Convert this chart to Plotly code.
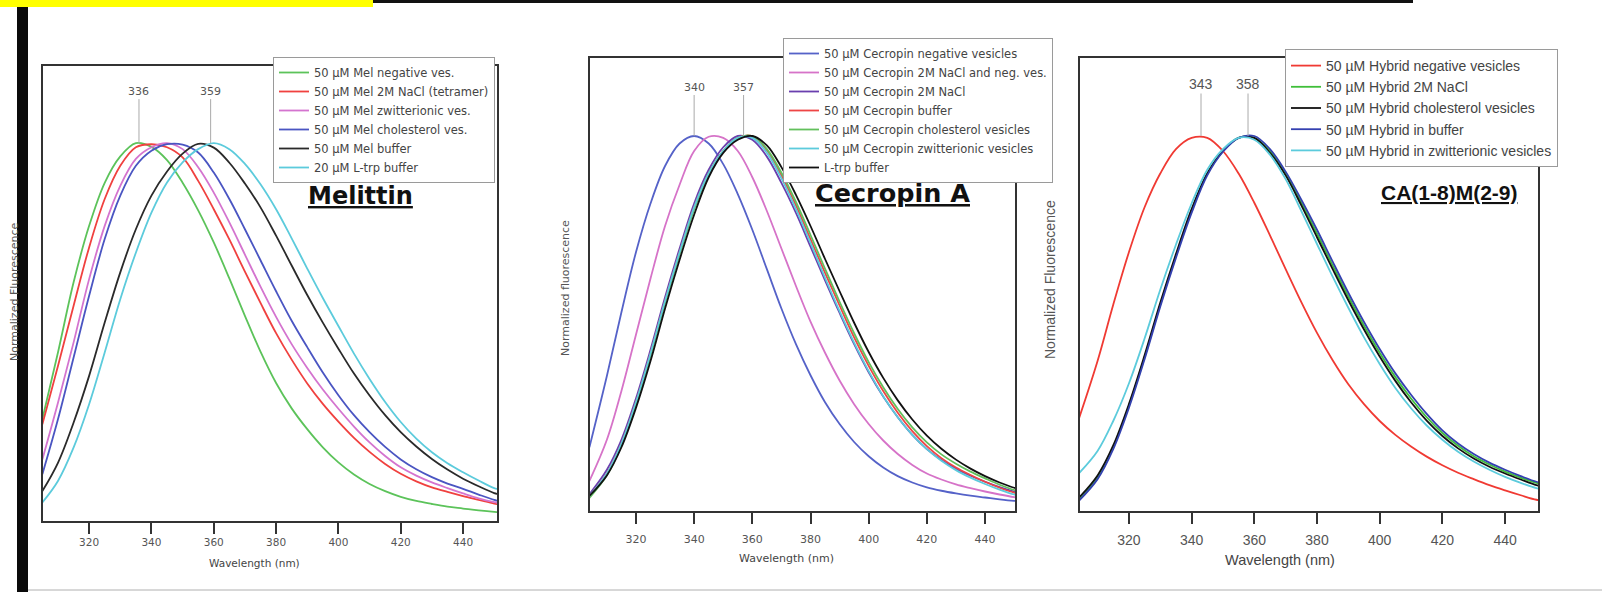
import plotly.graph_objects as go

W, H = 1602, 595

# ---------------- data ----------------
WL_MEL = [305, 310, 315, 320, 325, 330, 335, 340, 345, 350, 355, 360, 365, 370, 375, 380,
          385, 390, 395, 400, 405, 410, 415, 420, 425, 430, 435, 440, 445, 450, 452]
MEL_NAMES = ["50 µM Mel negative ves.", "50 µM Mel 2M NaCl (tetramer)",
             "50 µM Mel zwitterionic ves.", "50 µM Mel cholesterol ves.",
             "50 µM Mel buffer", "20 µM L-trp buffer"]
MEL_NEG = [0.27, 0.446, 0.631, 0.781, 0.895, 0.965, 1.0, 0.99, 0.955, 0.895, 0.822, 0.737,
           0.642, 0.543, 0.448, 0.365, 0.298, 0.243, 0.195, 0.155, 0.123, 0.098, 0.079, 0.064,
           0.053, 0.045, 0.038, 0.033, 0.028, 0.024, 0.023]
MEL_NACL = [0.256, 0.41, 0.569, 0.724, 0.852, 0.94, 0.989, 0.997, 0.989, 0.962, 0.9, 0.825,
            0.745, 0.66, 0.577, 0.497, 0.427, 0.364, 0.31, 0.263, 0.22, 0.183, 0.151, 0.125,
            0.105, 0.089, 0.077, 0.066, 0.056, 0.046, 0.043]
MEL_ZWIT = [0.163, 0.313, 0.472, 0.64, 0.781, 0.887, 0.958, 0.989, 1.0, 0.984, 0.936, 0.869,
            0.79, 0.705, 0.62, 0.54, 0.468, 0.405, 0.348, 0.297, 0.25, 0.208, 0.172, 0.142,
            0.12, 0.102, 0.087, 0.073, 0.06, 0.05, 0.047]
MEL_CHOL = [0.124, 0.269, 0.432, 0.596, 0.746, 0.861, 0.94, 0.98, 0.997, 0.996, 0.975, 0.922,
            0.852, 0.772, 0.69, 0.608, 0.53, 0.46, 0.393, 0.333, 0.28, 0.235, 0.196, 0.163,
            0.137, 0.116, 0.099, 0.085, 0.07, 0.056, 0.052]
MEL_BUF = [0.079, 0.154, 0.26, 0.384, 0.525, 0.658, 0.772, 0.861, 0.925, 0.972, 0.998, 0.988,
           0.948, 0.893, 0.83, 0.755, 0.676, 0.598, 0.525, 0.456, 0.39, 0.332, 0.28, 0.235,
           0.197, 0.164, 0.136, 0.112, 0.092, 0.074, 0.07]
MEL_TRP = [0.049, 0.106, 0.194, 0.309, 0.446, 0.587, 0.71, 0.816, 0.896, 0.949, 0.984, 1.0,
           0.984, 0.945, 0.891, 0.825, 0.748, 0.668, 0.59, 0.516, 0.443, 0.376, 0.315, 0.262,
           0.218, 0.182, 0.153, 0.129, 0.107, 0.087, 0.083]

WL_CEC = [304, 310, 315, 320, 325, 330, 335, 340, 345, 350, 355, 360, 365, 370, 375, 380,
          385, 390, 395, 400, 405, 410, 415, 420, 425, 430, 435, 440, 445, 450, 452]
CEC_NAMES = ["50 µM Cecropin negative vesicles", "50 µM Cecropin 2M NaCl and neg. ves.",
             "50 µM Cecropin 2M NaCl", "50 µM Cecropin buffer",
             "50 µM Cecropin cholesterol vesicles", "50 µM Cecropin zwitterionic vesicles",
             "L-trp buffer"]
CEC_NEG = [0.17, 0.36, 0.53, 0.69, 0.82, 0.92, 0.98, 1.0, 0.98, 0.925, 0.845, 0.75,
           0.645, 0.54, 0.445, 0.362, 0.29, 0.232, 0.184, 0.146, 0.116, 0.093, 0.076, 0.063,
           0.054, 0.047, 0.041, 0.036, 0.031, 0.027, 0.026]
CEC_NACLNEG = [0.08, 0.19, 0.32, 0.47, 0.62, 0.76, 0.87, 0.96, 0.998, 0.995, 0.96, 0.89,
               0.8, 0.7, 0.6, 0.505, 0.422, 0.348, 0.285, 0.232, 0.188, 0.152, 0.123, 0.1,
               0.084, 0.071, 0.061, 0.052, 0.044, 0.037, 0.035]
CEC_NACL = [0.045, 0.11, 0.19, 0.3, 0.43, 0.57, 0.7, 0.82, 0.91, 0.97, 1.0, 0.99,
            0.945, 0.875, 0.795, 0.705, 0.615, 0.528, 0.445, 0.37, 0.305, 0.25, 0.203, 0.165,
            0.136, 0.113, 0.094, 0.078, 0.064, 0.052, 0.049]
CEC_BUF = [0.04, 0.1, 0.18, 0.29, 0.42, 0.56, 0.69, 0.81, 0.9, 0.96, 0.995, 1.0,
           0.962, 0.895, 0.815, 0.725, 0.635, 0.548, 0.463, 0.387, 0.32, 0.262, 0.213, 0.173,
           0.141, 0.116, 0.096, 0.078, 0.062, 0.049, 0.046]
CEC_CHOL = [0.035, 0.095, 0.175, 0.285, 0.415, 0.555, 0.685, 0.805, 0.9, 0.96, 0.995, 1.0,
            0.965, 0.902, 0.824, 0.736, 0.646, 0.558, 0.474, 0.397, 0.33, 0.272, 0.223, 0.183,
            0.151, 0.126, 0.105, 0.087, 0.07, 0.056, 0.053]
CEC_ZWIT = [0.04, 0.1, 0.18, 0.29, 0.42, 0.56, 0.69, 0.81, 0.9, 0.96, 0.995, 0.995,
            0.955, 0.887, 0.805, 0.715, 0.622, 0.533, 0.449, 0.373, 0.306, 0.25, 0.203, 0.165,
            0.134, 0.109, 0.089, 0.072, 0.057, 0.044, 0.041]
CEC_TRP = [0.04, 0.095, 0.17, 0.275, 0.4, 0.54, 0.67, 0.79, 0.89, 0.955, 0.99, 1.0,
           0.975, 0.917, 0.843, 0.76, 0.672, 0.586, 0.502, 0.424, 0.355, 0.295, 0.244, 0.201,
           0.166, 0.137, 0.113, 0.093, 0.076, 0.062, 0.059]

WL_HYB = [304, 310, 315, 320, 325, 330, 335, 340, 345, 350, 355, 360, 365, 370, 375, 380,
          385, 390, 395, 400, 405, 410, 415, 420, 425, 430, 435, 440, 445, 450, 452]
HYB_NAMES = ["50 µM Hybrid negative vesicles", "50 µM Hybrid 2M NaCl",
             "50 µM Hybrid cholesterol vesicles", "50 µM Hybrid in buffer",
             "50 µM Hybrid in zwitterionic vesicles"]
HYB_NEG = [0.245, 0.4, 0.55, 0.69, 0.81, 0.9, 0.965, 0.995, 0.995, 0.96, 0.9, 0.822,
           0.735, 0.645, 0.557, 0.475, 0.402, 0.338, 0.285, 0.24, 0.203, 0.172, 0.145, 0.122,
           0.102, 0.085, 0.069, 0.055, 0.042, 0.03, 0.028]
HYB_NACL = [0.03, 0.09, 0.17, 0.28, 0.41, 0.55, 0.68, 0.8, 0.9, 0.96, 0.995, 0.995,
            0.96, 0.9, 0.822, 0.74, 0.655, 0.572, 0.494, 0.422, 0.357, 0.3, 0.25, 0.208,
            0.174, 0.146, 0.124, 0.105, 0.089, 0.075, 0.072]
HYB_CHOL = [0.035, 0.095, 0.175, 0.285, 0.415, 0.555, 0.685, 0.805, 0.9, 0.96, 0.995, 0.995,
            0.955, 0.895, 0.815, 0.73, 0.645, 0.562, 0.484, 0.412, 0.347, 0.29, 0.241, 0.2,
            0.167, 0.14, 0.118, 0.1, 0.084, 0.069, 0.066]
HYB_BUF = [0.027, 0.085, 0.165, 0.275, 0.405, 0.545, 0.675, 0.795, 0.895, 0.958, 0.995, 1.0,
           0.965, 0.905, 0.83, 0.75, 0.665, 0.582, 0.504, 0.432, 0.367, 0.31, 0.259, 0.215,
           0.18, 0.152, 0.129, 0.11, 0.093, 0.078, 0.075]
HYB_ZWIT = [0.1, 0.16, 0.24, 0.34, 0.46, 0.59, 0.71, 0.82, 0.91, 0.965, 0.995, 0.99,
            0.95, 0.885, 0.8, 0.712, 0.625, 0.542, 0.463, 0.392, 0.328, 0.274, 0.228, 0.19,
            0.158, 0.132, 0.11, 0.091, 0.075, 0.061, 0.058]

MEL_PEAKS = [336, 359]
CEC_PEAKS = [340, 357]
HYB_PEAKS = [343, 358]
XTICKS = [320, 340, 360, 380, 400, 420, 440]

# ---------------- helpers ----------------
def px(x):
    return x / W


def py(y):
    return 1 - y / H


fig = go.Figure()

panels = [
    dict(wl=WL_MEL, names=MEL_NAMES,
         ys=[MEL_NEG, MEL_NACL, MEL_ZWIT, MEL_CHOL, MEL_BUF, MEL_TRP],
         colors=["#5cc35a", "#f0413f", "#d474cf", "#4a55c2", "#2a2a2a", "#5ccbdc"],
         xa="x", ya="y", legend="legend"),
    dict(wl=WL_CEC, names=CEC_NAMES,
         ys=[CEC_NEG, CEC_NACLNEG, CEC_NACL, CEC_BUF, CEC_CHOL, CEC_ZWIT, CEC_TRP],
         colors=["#5562c8", "#d673c8", "#6a3fae", "#ee4545", "#62c05c", "#5ccbdc", "#111111"],
         xa="x2", ya="y2", legend="legend2"),
    dict(wl=WL_HYB, names=HYB_NAMES,
         ys=[HYB_NEG, HYB_NACL, HYB_CHOL, HYB_BUF, HYB_ZWIT],
         colors=["#f03a33", "#3fbf3a", "#111111", "#3440b0", "#5ccbdc"],
         xa="x3", ya="y3", legend="legend3"),
]

for p in panels:
    for name, yv, col in zip(p["names"], p["ys"], p["colors"]):
        fig.add_trace(go.Scatter(
            x=p["wl"], y=yv, name=name, mode="lines",
            line=dict(color=col, width=1.8, shape="spline", smoothing=1.0),
            xaxis=p["xa"], yaxis=p["ya"], legend=p["legend"],
        ))

# ---------------- axes ----------------
def xaxis(domain, rng, anchor, fsize, ffam, standoff):
    return dict(domain=domain, range=rng, anchor=anchor, tickvals=XTICKS,
                ticks="outside", ticklen=11, tickwidth=2, tickcolor="#333",
                showline=True, linewidth=2, linecolor="#333", mirror=True,
                showgrid=False, zeroline=False, ticklabelstandoff=standoff,
                tickfont=dict(size=fsize, color="#555", family=ffam))


def yaxis(domain, rng, anchor):
    return dict(domain=domain, range=rng, anchor=anchor, showticklabels=False,
                ticks="", showline=True, linewidth=2, linecolor="#333", mirror=True,
                showgrid=False, zeroline=False)


fig.update_layout(
    xaxis=xaxis([px(43), px(497)], [305.2, 450.9], "y", 10.5, "DejaVu Sans", -1),
    yaxis=yaxis([py(521), py(66)], [0, 1.204], "x"),
    xaxis2=xaxis([px(590), px(1015)], [304.2, 450.3], "y2", 11, "DejaVu Sans", 6),
    yaxis2=yaxis([py(511), py(58)], [0, 1.208], "x2"),
    xaxis3=xaxis([px(1080), px(1538)], [304.4, 450.5], "y3", 14, "Liberation Sans", 4),
    yaxis3=yaxis([py(511), py(58)], [0, 1.208], "x3"),
)

leg_common = dict(xanchor="left", yanchor="top", bgcolor="white",
                  bordercolor="#9a9a9a", borderwidth=1)
fig.update_layout(
    legend=dict(x=px(273), y=py(57), font=dict(family="DejaVu Sans", size=11.5, color="#444"),
                **leg_common),
    legend2=dict(x=px(783), y=py(38), font=dict(family="DejaVu Sans", size=11.5, color="#444"),
                 **leg_common),
    legend3=dict(x=px(1285), y=py(49), font=dict(family="Liberation Sans", size=14, color="#444"),
                 **leg_common),
)

# ---------------- annotations ----------------
ann = []
for peaks, xr, yr, ay, fs in [(MEL_PEAKS, "x", "y", -52, 11), (CEC_PEAKS, "x2", "y2", -49, 11),
                              (HYB_PEAKS, "x3", "y3", -52, 14)]:
    for pk in peaks:
        ann.append(dict(x=pk, y=1.0, xref=xr, yref=yr, text=str(pk), showarrow=True,
                        arrowhead=0, arrowwidth=1, arrowcolor="#aaaaaa", ax=0, ay=ay,
                        font=dict(size=fs, color="#555",
                                  family="Liberation Sans" if xr == "x3" else "DejaVu Sans")))


def text_ann(x, y, text, family, size, color, angle=0):
    return dict(x=px(x), y=py(y), xref="paper", yref="paper", showarrow=False,
                xanchor="center", yanchor="middle", textangle=angle, text=text,
                font=dict(family=family, size=size, color=color))


# titles
ann.append(text_ann(360, 196, "<b><u>Melittin</u></b>", "DejaVu Sans", 24, "#111"))
ann.append(text_ann(892, 193, "<b><u>Cecropin A</u></b>", "DejaVu Sans", 25.5, "#111"))
ann.append(text_ann(1449, 193, "<b><u>CA(1-8)M(2-9)</u></b>", "Liberation Sans", 21, "#111"))

# x titles
ann.append(text_ann(254, 563, "Wavelength (nm)", "DejaVu Sans", 10.5, "#444"))
ann.append(text_ann(786, 558, "Wavelength (nm)", "DejaVu Sans", 11, "#444"))
ann.append(text_ann(1280, 560, "Wavelength (nm)", "Liberation Sans", 14.5, "#444"))

# y titles
ann.append(text_ann(14, 292, "Normalized Fluorescence", "DejaVu Sans", 11, "#555", -90))
ann.append(text_ann(565, 288, "Normalized fluorescence", "DejaVu Sans", 11, "#555", -90))
ann.append(text_ann(1050, 280, "Normalized Fluorescence", "Liberation Sans", 14, "#555", -90))

fig.update_layout(annotations=ann)

# ---------------- decorative slide frame ----------------
shapes = [
    dict(type="rect", xref="paper", yref="paper", x0=0, x1=px(373), y0=py(7), y1=1,
         fillcolor="#ffff00", line=dict(width=0), layer="above"),
    dict(type="rect", xref="paper", yref="paper", x0=px(373), x1=px(1413), y0=py(3), y1=1,
         fillcolor="#111", line=dict(width=0), layer="above"),
    dict(type="rect", xref="paper", yref="paper", x0=px(17), x1=px(28), y0=py(592), y1=py(7),
         fillcolor="#0a0a0a", line=dict(width=0), layer="above"),
    dict(type="line", xref="paper", yref="paper", x0=px(28), x1=1, y0=py(590), y1=py(590),
         line=dict(color="#b0b0b0", width=1), layer="above"),
]
fig.update_layout(shapes=shapes)

fig.update_layout(width=W, height=H, margin=dict(l=0, r=0, t=0, b=0),
                  paper_bgcolor="white", plot_bgcolor="white",
                  font=dict(family="Liberation Sans"))

fig.write_html("out.html", config={"displayModeBar": False},
               post_script="document.body.style.margin='0px';document.body.style.overflow='hidden';")
